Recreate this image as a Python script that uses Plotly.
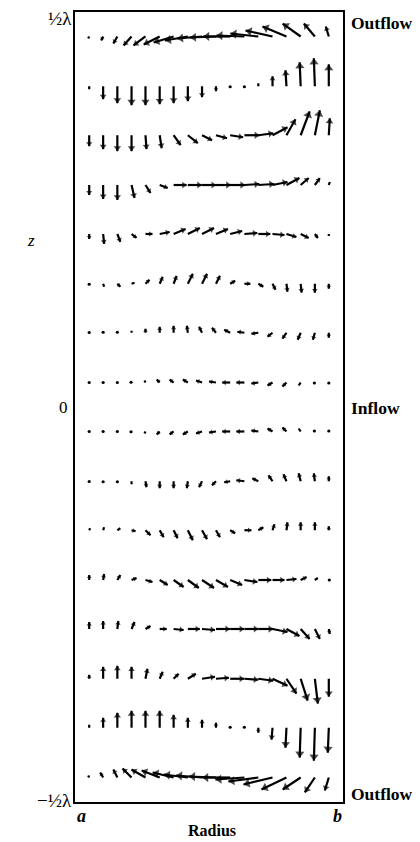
import math
import plotly.graph_objects as go

# Radial positions of the grid columns (fraction of the gap a..b) and axial rows (units of lambda)
R_POS = [0.053, 0.105, 0.158, 0.211, 0.263, 0.316, 0.368, 0.421, 0.474,
         0.526, 0.579, 0.632, 0.684, 0.737, 0.789, 0.842, 0.895, 0.947]
Z_POS = [0.469, 0.406, 0.344, 0.281, 0.219, 0.156, 0.094, 0.031,
         -0.031, -0.094, -0.156, -0.219, -0.281, -0.344, -0.406, -0.469]

# Radial (u) and axial (w) velocity components per row, arbitrary units
u01 = [-1, -2, -4, -8, -12, -16, -20, -23, -25, -26, -27, -28, -28, -27, -24, -18, -11, -3]
w01 = [-2, -4, -7, -9, -9, -8, -6, -4, -2, -1, 0, 1, 3, 6, 10, 13, 13, 10]
u02 = [0, 0, 0, 0, 0, 0, 0, 0, 0, 0, 0, 0, 0, 0, -1, -1, -1, 0]
w02 = [-3, -13, -17, -19, -19, -18, -17, -15, -11, -5, -1, -1, 3, 10, 16, 24, 28, 22]
u03 = [0, 0, 0, 0, 1, 2, 7, 10, 10, 11, 13, 15, 15, 15, 9, 9, 5, 1]
w03 = [-11, -14, -16, -16, -14, -13, -10, -8, -5, -3, -2, 0, 2, 8, 16, 24, 25, 17]
u04 = [0, 0, 0, 3, 5, 8, 13, 14, 14, 15, 15, 15, 16, 15, 13, 8, 5, 1]
w04 = [-10, -14, -15, -13, -8, -3, 0, 0, 0, 0, 0, 1, 1, 3, 7, 7, 7, 3]
u05 = [0, 1, 3, 5, 7, 10, 12, 12, 12, 12, 12, 13, 12, 12, 10, 8, 3, 0]
w05 = [-5, -10, -8, -4, 0, 2, 5, 6, 6, 5, 3, 1, 0, -1, -3, -4, -4, -2]
u06 = [0, 1, 3, 3, 4, 3, 3, 5, 5, 4, 5, 6, 5, 3, 1, 1, 0, 0]
w06 = [-1, -3, -3, 1, 4, 7, 8, 10, 10, 8, 3, 0, -3, -6, -8, -9, -9, -5]
u07 = [0, 0, 0, 0, 0, 0, 0, -1, -3, -4, -6, -7, -7, -5, -4, -3, -2, 0]
w07 = [0.5, 1, 1, 2, 4, 6, 7, 7, 6, 5, 3, 1, -1, -4, -6, -7, -7, -5]
u08 = [0, 0, 0, -1, -1, -3, -4, -5, -6, -7, -8, -8, -7, -5, -4, -2, -1, 0]
w08 = [0, 0, 0, 0.5, 2, 3, 3, 3, 2, 1, 0, 0, -1, -3, -4, -3, -1, -1]
u09 = [0, 0, 0, -1, -1, -3, -4, -5, -6, -7, -8, -8, -7, -5, -4, -2, -1, 0]
w09 = [0, 0, 0, -0.5, -2, -3, -3, -3, -2, -1, 0, 0, 1, 3, 4, 3, 1, 1]
u10 = [0, 0, 0, 0, 1, 0, 0, -1, -3, -4, -6, -8, -6, -4, -3, -2, -1, 0]
w10 = [-0.5, -1, -1, -3, -6, -7, -7, -7, -6, -4, -1, 1, 3, 6, 7, 8, 8, 5]
u11 = [1, 1, 3, 4, 5, 4, 4, 5, 5, 4, 5, 7, 5, 2, 1, 0, 0, 0]
w11 = [2, 3, 2, -1, -5, -7, -8, -10, -9, -7, -3, 0, 3, 6, 8, 8, 8, 4]
u12 = [0, 1, 3, 5, 7, 8, 10, 11, 12, 12, 12, 13, 13, 12, 10, 6, 3, 1]
w12 = [5, 6, 5, 2, -2, -5, -7, -8, -8, -7, -5, -2, 0, 0, 1, 3, 2, 0]
u13 = [0, 0, 1, 3, 5, 7, 10, 12, 13, 14, 14, 14, 15, 15, 13, 9, 5, 1]
w13 = [7, 8, 8, 7, 3, 0, -1, 0, -1, 0, 0, 0, 0, -3, -7, -10, -10, -5]
u14 = [0, 0, 0, 0, 2, 3, 5, 8, 13, 13, 14, 14, 15, 15, 10, 7, 3, 0]
w14 = [4, 12, 13, 12, 10, 7, 5, 5, 2, 1, 0, -1, -2, -7, -15, -22, -25, -18]
u15 = [0, 0, 0, 0, 0, 0, 0, 0, 0, 0, 0, 0, 0, -1, -1, -1, -1, -1]
w15 = [3, 10, 15, 17, 17, 17, 13, 10, 8, 5, 1, 1, -5, -12, -20, -30, -33, -25]
u16 = [-1, -3, -4, -9, -14, -18, -21, -24, -26, -27, -28, -29, -30, -29, -25, -18, -10, -4]
w16 = [2, 5, 8, 9, 8, 7, 5, 3, 2, 1, 0, -2, -4, -7, -12, -12, -15, -13]

U_ROWS = [u01, u02, u03, u04, u05, u06, u07, u08, u09, u10, u11, u12, u13, u14, u15, u16]
W_ROWS = [w01, w02, w03, w04, w05, w06, w07, w08, w09, w10, w11, w12, w13, w14, w15, w16]

# Figure geometry (page has an 8px body margin)
PAGE_OFF = 8
FIG_W, FIG_H = 412, 834
M_L, M_T = 67, 2
PW, PH = 268, 792
M_R = FIG_W - M_L - PW
M_B = FIG_H - M_T - PH
VEL_PX = 1.0             # one velocity unit drawn as one pixel

sx = VEL_PX / PW
sz = VEL_PX / PH

shaft_x, shaft_y = [], []
head_x, head_y, head_ang, head_size = [], [], [], []
dot_x, dot_y = [], []

for z0, urow, wrow in zip(Z_POS, U_ROWS, W_ROWS):
    for r0, u, w in zip(R_POS, urow, wrow):
        L = math.hypot(u, w)
        if L < 2.0:
            dot_x.append(r0 + u * sx * 0.5)
            dot_y.append(z0 + w * sz * 0.5)
            continue
        r1 = r0 + u * sx
        z1 = z0 + w * sz
        shaft_x += [r0, r1, None]
        shaft_y += [z0, z1, None]
        if L >= 4:
            s = max(4.0, min(8.0, 0.22 * L + 3.0))
            ux, uz = u / L, w / L
            head_x.append(r1 - ux * (s * 0.5) * sx)
            head_y.append(z1 - uz * (s * 0.5) * sz)
            head_ang.append(math.degrees(math.atan2(u, w)))
            head_size.append(s)

fig = go.Figure()
fig.add_trace(go.Scatter(x=shaft_x, y=shaft_y, mode="lines",
                         line=dict(color="#000000", width=2.2),
                         hoverinfo="skip", showlegend=False))
fig.add_trace(go.Scatter(x=head_x, y=head_y, mode="markers",
                         marker=dict(symbol="triangle-up", size=head_size, angle=head_ang,
                                     color="#000000", line=dict(width=0)),
                         hoverinfo="skip", showlegend=False))
fig.add_trace(go.Scatter(x=dot_x, y=dot_y, mode="markers",
                         marker=dict(symbol="circle", size=3.2, color="#000000", line=dict(width=0)),
                         hoverinfo="skip", showlegend=False))

axis_common = dict(showgrid=False, zeroline=False, showticklabels=False, ticks="",
                   showline=True, mirror=True, linecolor="#000000", linewidth=1.6, fixedrange=True)
fig.update_xaxes(range=[0, 1], **axis_common)
fig.update_yaxes(range=[-0.5, 0.5], **axis_common)

SERIF = "Liberation Serif, Times New Roman, serif"


def paper_x(p):
    return (p - PAGE_OFF - M_L) / PW


def paper_y(p):
    return 1 - (p - PAGE_OFF - M_T) / PH


labels = [
    dict(text="½λ", px=74, py=17, xa="right", size=19, b=False, i=False),
    dict(text="−½λ", px=74, py=800, xa="right", size=19, b=False, i=False),
    dict(text="0", px=70, py=406, xa="right", size=17, b=False, i=False),
    dict(text="z", px=31, py=239, xa="center", size=17, b=False, i=True),
    dict(text="Outflow", px=349, py=21, xa="left", size=17.5, b=True, i=False),
    dict(text="Inflow", px=349, py=407, xa="left", size=17.5, b=True, i=False),
    dict(text="Outflow", px=349, py=794, xa="left", size=17.5, b=True, i=False),
    dict(text="a", px=81, py=816, xa="center", size=18, b=True, i=True),
    dict(text="b", px=337, py=816, xa="center", size=18, b=True, i=True),
    dict(text="Radius", px=212, py=831, xa="center", size=16, b=True, i=False),
]
for lb in labels:
    t = lb["text"]
    if lb["b"]:
        t = "<b>" + t + "</b>"
    if lb["i"]:
        t = "<i>" + t + "</i>"
    fig.add_annotation(x=paper_x(lb["px"]), y=paper_y(lb["py"]), xref="paper", yref="paper",
                       text=t, showarrow=False, xanchor=lb["xa"], yanchor="middle",
                       font=dict(family=SERIF, size=lb["size"], color="#000000"))

fig.update_layout(width=FIG_W, height=FIG_H, autosize=False,
                  margin=dict(l=M_L, r=M_R, t=M_T, b=M_B, pad=0),
                  paper_bgcolor="white", plot_bgcolor="white")

fig.write_html("out.html")
